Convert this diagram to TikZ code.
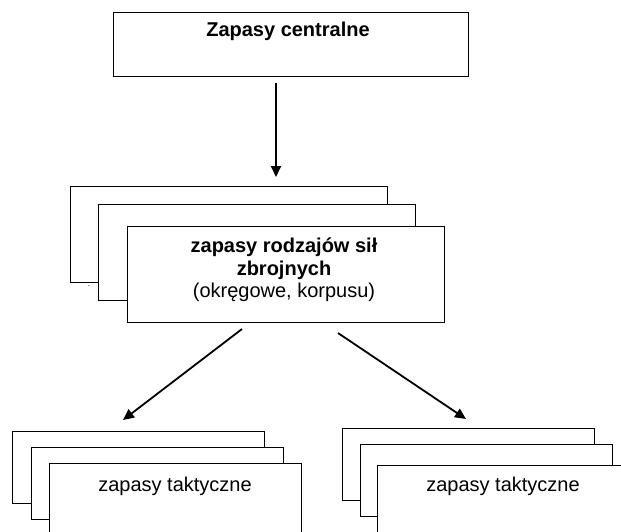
\documentclass[tikz,border=0pt]{standalone}
\usepackage{fontspec}
\setmainfont{Liberation Sans}
\usetikzlibrary{positioning}
\usetikzlibrary{arrows.meta}

\begin{document}
\begin{tikzpicture}
	[
		x = 1pt, y = -1pt,
		box/.style = {rectangle, draw = black, fill = white, line width = 1pt, anchor = north west, inner sep = 0pt},
		bigbox/.style = {box, minimum width = 317pt, minimum height = 96pt},
		smallbox/.style = {box, minimum width = 252pt, minimum height = 72pt},
		txt/.style = {align = center, inner sep = 0pt, font = \fontsize{20}{22.5}\selectfont},
		arr/.style = {-{Triangle[length = 11pt, width = 10pt]}, line width = 1.8pt},
	]
	\useasboundingbox (0,0) rectangle (621,531);
	\clip (0,0) rectangle (621,531);
	% central
	\node (cent) [box, minimum width = 355pt, minimum height = 64pt] at (113,12) {};
	\node (centtxt) [txt] at (288,31) {\textbf{Zapasy centralne}};
	% branches of the armed forces
	\node (rodzA) [bigbox] at (70,186) {};
	\node (dot) [inner sep = 0pt, font = \fontsize{8}{8}\selectfont] at (89,286) {.};
	\node (rodzB) [bigbox] at (98,204) {};
	\node (rodzC) [bigbox] at (127,226) {};
	\node (rodztxt) [txt] at (284,270) {\textbf{zapasy rodzajów sił}\\\textbf{zbrojnych}\\(okręgowe, korpusu)};
	% tactical, left
	\node (taktL1) [smallbox] at (12,431) {};
	\node (taktL2) [smallbox] at (31,447) {};
	\node (taktL3) [smallbox] at (49,463) {};
	\node (taktLtxt) [txt] at (175,486) {zapasy taktyczne};
	% tactical, right
	\node (taktR1) [smallbox] at (342,428) {};
	\node (taktR2) [smallbox] at (360,444) {};
	\node (taktR3) [smallbox] at (377,465) {};
	\node (taktRtxt) [txt] at (503,486) {zapasy taktyczne};
	% arrows
	\coordinate (a1s) at (276,83);
	\coordinate (a1e) at (276,177);
	\coordinate (a2s) at (242,329);
	\coordinate (a2e) at (123,420);
	\coordinate (a3s) at (338,333);
	\coordinate (a3e) at (466,419);
	\draw [arr] (a1s) -- (a1e);
	\draw [arr] (a2s) -- (a2e);
	\draw [arr] (a3s) -- (a3e);
\end{tikzpicture}
\end{document}
